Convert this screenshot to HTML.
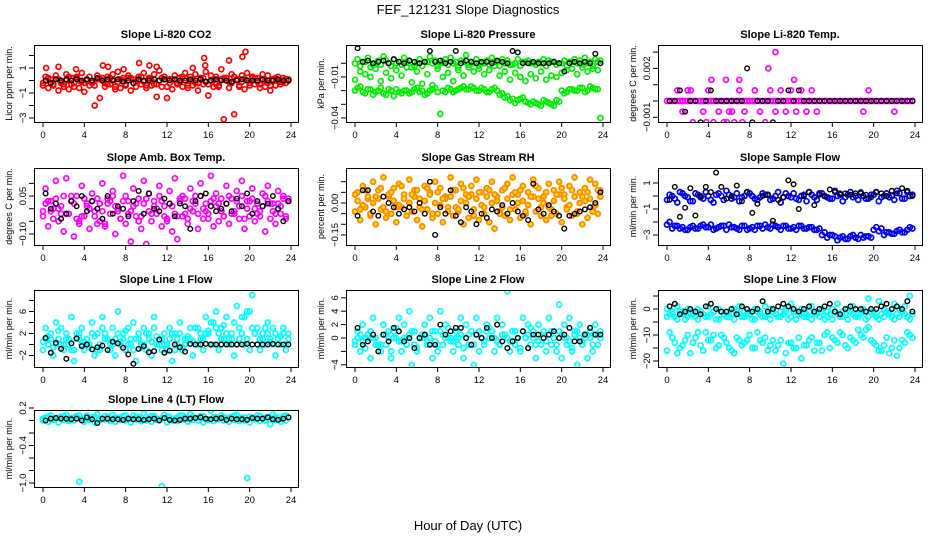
<!DOCTYPE html>
<html><head><meta charset="utf-8">
<style>
html,body{margin:0;padding:0;background:#fff;}
svg{display:block;font-family:"Liberation Sans",sans-serif;}
</style></head>
<body>
<svg id="chart" width="936" height="540" viewBox="0 0 936 540" xmlns="http://www.w3.org/2000/svg">
<rect x="0" y="0" width="936" height="540" fill="#fff"/>
<text x="468" y="14" font-size="13" text-anchor="middle">FEF_121231  Slope Diagnostics</text>
<text x="468" y="530" font-size="13" text-anchor="middle">Hour of Day (UTC)</text>
</svg>
<script>
const hours = [0.25,0.75,1.25,1.75,2.25,2.75,3.25,3.75,4.25,4.75,5.25,5.75,6.25,6.75,7.25,7.75,8.25,8.75,9.25,9.75,10.25,10.75,11.25,11.75,12.25,12.75,13.25,13.75,14.25,14.75,15.25,15.75,16.25,16.75,17.25,17.75,18.25,18.75,19.25,19.75,20.25,20.75,21.25,21.75,22.25,22.75,23.25,23.75];
const hoursB = [0.0,0.5,1.0,1.5,2.0,2.5,3.0,3.5,4.0,4.5,5.0,5.5,6.0,6.5,7.0,7.5,8.0,8.5,9.0,9.5,10.0,10.5,11.0,11.5,12.0,12.5,13.0,13.5,14.0,14.5,15.0,15.5,16.0,16.5,17.0,17.5,18.0,18.5,19.0,19.5,20.0,20.5,21.0,21.5,22.0,22.5,23.0,23.5];
const xTicks = [0,4,8,12,16,20,24];

// Panel 1: CO2
const co2RedA = [0.3,0.1,0.4,-0.2,0.5,0.2,0.3,0.6,0.1,-0.1,0.4,0.2,0.3,0.5,0.7,0.2,0.4,0.1,0.3,0.6,0.2,0.5,0.8,0.3,0.1,0.4,0.2,0.6,0.3,0.5,0.2,0.7,0.4,0.3,0.9,0.2,0.5,0.1,0.4,0.6,0.3,0.2,0.5,0.4,0.1,0.3,0.2,0.1];
const co2RedB = [-0.4,-0.6,-0.3,-0.8,-0.5,-0.7,-0.2,-0.6,-0.9,-0.4,-2.0,-1.4,-0.5,-0.3,-0.7,-0.6,-0.4,-0.8,-0.5,-0.3,-0.6,-0.4,-1.3,-0.5,-1.4,-0.7,-0.3,-0.5,-0.6,-0.4,-0.8,-0.3,-1.2,-0.5,-0.4,-3.1,-0.6,-2.7,-0.5,-0.7,-0.4,-0.3,-0.6,-0.5,-0.8,-0.4,-0.3,-0.2];
const co2RedC = [0.0,-0.2,0.1,-0.1,0.0,-0.3,0.2,-0.1,0.0,-0.2,0.1,0.0,-0.3,0.1,-0.1,0.0,0.2,-0.2,0.0,-0.1,0.1,-0.3,0.0,0.1,-0.2,0.0,-0.1,0.2,0.0,-0.2,0.1,-0.1,0.0,-0.3,0.1,0.0,-0.2,0.1,-0.1,0.0,0.2,-0.1,0.0,-0.2,0.1,0.0,-0.1,0.0];
const co2RedD = [-0.2,0.2,-0.4,0.1,-0.3,0.3,-0.5,0.0,-0.2,0.3,-0.4,0.1,-0.2,0.2,-0.5,0.1,-0.3,0.2,-0.1,0.3,-0.4,0.0,-0.3,0.2,-0.5,0.1,-0.2,0.3,-0.4,0.0,-0.2,0.2,-0.3,0.1,-0.5,0.2,-0.1,0.3,-0.4,0.1,-0.2,0.2,-0.3,0.0,-0.4,0.2,-0.1,0.1];
const co2OutHours = [0.3,1.5,3.2,5.8,7.8,9.3,11.0,15.6,15.7,17.5,18.0,19.3,19.6,14.5,10.3,6.3];
const co2OutValues = [1.0,1.1,0.9,1.2,0.9,1.4,1.1,1.8,1.2,3.0,1.6,1.9,2.3,1.0,1.2,1.1];
const co2Black = [0.0,-0.2,0.1,0.0,0.1,0.0,0.1,0.0,0.1,0.0,0.2,0.0,0.1,0.0,0.1,-0.1,0.0,-0.2,0.1,0.0,0.0,0.1,0.0,0.1,0.0,0.1,0.0,0.0,0.1,0.0,0.1,-0.1,0.0,0.1,0.0,0.0,-0.1,0.0,0.1,0.0,0.0,0.0,0.1,0.0,0.0,0.1,0.0,0.0];

// Panel 2: Pressure
const presGreenA = [0.003,0.001,0.004,-0.001,0.002,0.005,0.000,0.003,0.001,0.004,0.002,-0.002,0.003,0.001,0.005,0.002,0.000,0.003,0.004,0.001,0.002,0.006,0.001,0.003,0.000,0.002,0.004,0.001,0.003,0.002,-0.001,0.003,0.001,0.002,0.000,0.001,0.003,0.002,0.001,0.000,0.002,0.001,0.003,0.002,0.004,0.001,0.003,0.002];
const presGreenB = [-0.018,-0.021,-0.019,-0.023,-0.020,-0.022,-0.019,-0.024,-0.021,-0.020,-0.022,-0.019,-0.021,-0.023,-0.020,-0.018,-0.037,-0.021,-0.019,-0.020,-0.018,-0.019,-0.017,-0.020,-0.018,-0.021,-0.019,-0.020,-0.022,-0.024,-0.026,-0.027,-0.025,-0.029,-0.028,-0.030,-0.027,-0.029,-0.031,-0.028,-0.022,-0.019,-0.020,-0.018,-0.021,-0.017,-0.019,-0.040];
const presGreenE = [-0.020,-0.017,-0.022,-0.019,-0.021,-0.018,-0.023,-0.020,-0.019,-0.022,-0.020,-0.021,-0.018,-0.020,-0.022,-0.019,-0.021,-0.020,-0.018,-0.021,-0.019,-0.017,-0.019,-0.018,-0.020,-0.019,-0.021,-0.018,-0.023,-0.025,-0.027,-0.029,-0.026,-0.028,-0.030,-0.029,-0.031,-0.028,-0.030,-0.027,-0.020,-0.021,-0.019,-0.020,-0.018,-0.020,-0.018,-0.019];
const presGreenC = [-0.012,-0.006,-0.008,-0.010,-0.004,-0.013,-0.007,-0.011,-0.005,-0.009,-0.003,-0.014,-0.006,-0.015,-0.008,-0.016,-0.004,-0.010,-0.007,-0.013,-0.005,-0.009,-0.003,-0.006,-0.004,-0.008,-0.005,-0.002,-0.009,-0.006,-0.012,-0.007,-0.010,-0.013,-0.008,-0.011,-0.006,-0.012,-0.009,-0.010,-0.007,-0.005,-0.004,-0.008,-0.003,-0.006,-0.004,-0.005];
const presGreenD = [0.000,-0.002,0.001,-0.003,0.000,-0.001,0.002,-0.002,0.000,-0.001,0.001,-0.003,0.000,-0.002,0.001,0.000,-0.002,0.001,-0.001,0.000,-0.003,0.001,-0.001,0.000,-0.002,0.000,-0.001,0.001,-0.002,0.000,-0.001,0.000,-0.002,0.001,0.000,-0.001,0.000,-0.002,0.001,-0.001,0.000,-0.002,0.001,0.000,-0.001,0.000,-0.002,0.001];
const presBlack = [0.011,0.001,0.002,0.000,0.001,0.002,0.000,0.003,0.001,0.000,0.002,0.001,0.000,0.001,0.009,0.001,0.002,0.000,0.001,0.009,0.000,0.002,0.001,0.000,0.001,0.001,0.000,0.002,0.001,0.000,0.009,0.008,0.000,0.000,0.001,0.000,0.000,0.000,0.001,0.000,-0.006,0.000,0.001,0.000,0.001,0.000,0.007,0.000];

// Panel 3: Li-820 Temp
const tempPinkA = [0,0,0,0,0,0,0,0,0,0,0,0,0,0,0,0,0,0,0,0,0,0,0,0,0,0,0,0,0,0,0,0,0,0,0,0,0,0,0,0,0,0,0,0,0,0,0,0];
const tempPinkHours = [1,1.5,2,2.5,3.5,4,4.5,5,5.5,6,6.5,7,7.5,8.5,9,9.5,10,10.5,11,11.5,12,12.5,13,13.5,14,14.5,19,19.5,22,2.3,4.3,5.7,6.3,7.0,9.8,10.5,3.8,5.8,7.3,12.3];
const tempPinkValues = [0.00065,-0.00065,0.00065,-0.0013,-0.00065,0.00065,-0.0013,-0.00065,-0.0013,-0.00065,-0.0013,0.00065,-0.00065,0.00065,-0.00065,-0.0013,0.00065,-0.00065,0.00065,-0.00065,0.00065,-0.00065,0.00065,-0.00065,0.00065,-0.00065,-0.00065,0.00065,-0.00065,0.00065,0.0013,0.0013,-0.00065,0.0013,0.002,0.003,-0.0013,-0.0013,-0.0013,0.0013];
const tempBlack = [0,0,0.00065,-0.00065,0,0,-0.0013,0,0.00065,0,0,0,0,0,0,0.002,-0.0013,0,0,0,-0.0013,0,0,0.00065,0,0.00065,0,0,0,0,0,0,0,0,0,0,0,0,0,0,0,0,0,0,0,0,0,0];

// Panel 4: Amb box temp
const ambA = [0.08,0.03,0.11,-0.02,0.12,0.05,-0.04,0.09,0.02,0.06,-0.06,0.10,0.04,0.07,-0.01,0.13,0.03,0.08,-0.05,0.11,0.06,0.01,0.09,-0.03,0.07,0.12,0.04,-0.02,0.08,0.05,0.10,0.02,0.13,0.06,-0.01,0.09,0.04,0.07,0.11,0.03,0.08,-0.02,0.06,0.09,0.02,0.07,0.05,0.04];
const ambB = [-0.03,-0.07,0.00,-0.05,-0.09,-0.02,-0.11,-0.06,-0.03,-0.08,-0.01,-0.05,-0.07,-0.02,-0.10,-0.04,-0.06,-0.13,-0.03,-0.08,-0.14,-0.05,-0.02,-0.07,-0.04,-0.09,-0.12,-0.03,-0.06,-0.01,-0.08,-0.04,-0.02,-0.07,-0.05,-0.03,-0.06,-0.02,-0.04,-0.08,-0.03,-0.05,-0.01,-0.09,-0.04,-0.06,-0.02,-0.03];
const ambC = [0.02,-0.01,0.04,0.01,-0.02,0.03,0.05,-0.03,0.01,0.03,0.04,-0.01,0.02,0.05,0.00,0.03,-0.02,0.01,0.04,0.02,-0.01,0.03,0.05,0.01,0.02,-0.02,0.03,0.04,0.00,0.02,0.05,-0.01,0.03,0.01,0.04,0.02,-0.02,0.03,0.05,0.00,0.04,0.02,0.01,0.03,-0.01,0.02,0.04,0.03];
const ambD = [-0.01,0.03,-0.04,0.00,0.05,-0.02,0.02,-0.05,0.04,0.00,-0.03,0.02,-0.06,0.03,0.01,-0.04,0.05,-0.01,0.02,-0.03,0.04,-0.02,0.00,0.03,-0.05,0.01,-0.03,0.05,-0.04,0.03,-0.02,0.00,-0.04,0.04,0.02,-0.03,0.05,-0.01,0.01,-0.04,0.03,0.00,-0.03,0.05,0.02,-0.02,0.01,-0.04];
const ambBlack = [0.06,0.00,0.02,-0.04,-0.02,0.03,0.01,0.05,-0.01,0.03,0.00,-0.04,0.05,-0.02,0.01,0.00,-0.03,0.03,0.07,-0.02,0.06,0.00,-0.01,0.04,0.02,-0.03,0.02,0.01,-0.08,0.03,0.05,0.06,0.01,-0.01,0.00,0.02,-0.01,0.04,0.01,0.06,-0.02,0.03,0.01,0.02,0.05,0.00,-0.05,0.03];

// Panel 5: Gas stream RH
const rhA = [0.05,0.08,0.02,0.10,0.06,0.12,0.03,0.07,0.09,0.04,0.11,0.06,0.02,0.08,0.05,0.10,0.07,0.03,0.12,0.06,0.09,0.04,0.08,0.11,0.05,0.07,0.10,0.03,0.06,0.09,0.12,0.04,0.08,0.05,0.11,0.07,0.03,0.09,0.06,0.10,0.04,0.08,0.12,0.05,0.07,0.11,0.09,0.06];
const rhB = [-0.04,-0.08,-0.02,-0.06,-0.10,-0.03,-0.07,-0.05,-0.09,-0.02,-0.06,-0.04,-0.08,-0.11,-0.03,-0.07,-0.05,-0.09,-0.02,-0.06,-0.04,-0.10,-0.07,-0.03,-0.08,-0.05,-0.09,-0.12,-0.04,-0.06,-0.08,-0.03,-0.07,-0.05,-0.10,-0.04,-0.06,-0.08,-0.03,-0.05,-0.09,-0.02,-0.06,-0.04,-0.10,-0.07,-0.03,-0.05];
const rhC = [0.01,-0.01,0.03,0.00,0.02,-0.02,0.04,0.01,-0.01,0.02,0.00,0.03,-0.02,0.01,0.04,0.00,-0.01,0.02,0.03,-0.02,0.01,0.00,0.04,0.02,-0.01,0.03,0.00,0.01,-0.02,0.02,0.04,0.00,0.01,-0.01,0.03,0.02,0.00,-0.02,0.01,0.04,0.02,-0.01,0.03,0.00,0.01,0.02,-0.01,0.03];
const rhD = [0.04,-0.03,0.06,-0.05,0.03,0.07,-0.04,0.05,-0.02,0.08,-0.06,0.04,0.06,-0.03,0.07,-0.05,0.05,0.02,-0.04,0.06,-0.03,0.07,0.03,-0.06,0.05,-0.02,0.06,0.04,-0.05,0.07,-0.03,0.05,0.06,-0.04,0.03,0.08,-0.02,0.05,-0.06,0.04,0.07,-0.03,0.06,-0.05,0.03,0.05,-0.04,0.06];
const rhBlack = [-0.06,0.06,0.06,-0.04,-0.06,0.03,0.00,-0.02,-0.05,-0.03,-0.02,-0.04,0.00,-0.05,0.10,-0.15,-0.02,-0.05,0.06,-0.06,-0.09,-0.02,-0.04,-0.10,-0.05,-0.07,-0.03,-0.04,-0.01,-0.05,0.00,-0.04,-0.06,-0.08,0.09,-0.03,-0.05,-0.01,-0.04,-0.06,-0.12,-0.06,-0.05,-0.04,-0.03,-0.02,0.00,0.05];

// Panel 6: Sample flow
const sfA = [0.1,-0.2,0.3,0.0,-0.4,0.2,-0.1,0.3,-0.3,0.1,0.0,0.4,-0.2,0.2,-0.1,0.3,0.0,-0.3,0.2,0.1,-0.2,0.3,-0.1,0.0,0.2,-0.3,0.1,0.3,-0.1,0.2,0.0,-0.2,0.4,0.1,-0.1,0.3,0.0,0.2,-0.2,0.1,0.3,-0.1,0.2,0.0,0.4,-0.2,0.3,0.1];
const sfB = [-0.3,0.0,-0.5,0.2,-0.1,-0.4,0.1,-0.2,0.0,-0.5,0.2,-0.3,0.1,-0.1,-0.4,0.0,0.2,-0.2,-0.1,0.1,-0.3,0.0,-0.5,0.2,-0.1,-0.2,0.0,-0.4,0.1,-0.3,0.2,-0.1,-0.2,0.0,-0.4,0.1,-0.1,-0.3,0.0,-0.2,0.1,-0.4,0.0,-0.1,-0.3,0.2,-0.2,0.0];
const sfC = [-2.0,-2.3,-2.5,-2.6,-2.4,-2.5,-2.3,-2.4,-2.2,-2.5,-2.3,-2.6,-2.4,-2.5,-2.3,-2.6,-2.4,-2.3,-2.5,-2.4,-2.2,-2.4,-2.3,-2.5,-2.4,-2.3,-2.5,-2.4,-2.6,-2.5,-2.8,-3.0,-3.1,-3.2,-3.3,-3.1,-3.2,-3.0,-3.1,-3.2,-2.4,-2.5,-2.8,-2.9,-2.7,-2.8,-2.6,-2.5];
const sfD = [-2.2,-2.5,-2.3,-2.4,-2.6,-2.3,-2.5,-2.2,-2.4,-2.6,-2.4,-2.3,-2.2,-2.4,-2.6,-2.3,-2.5,-2.6,-2.3,-2.2,-2.5,-2.3,-2.6,-2.3,-2.5,-2.6,-2.3,-2.5,-2.4,-2.6,-3.0,-3.2,-3.0,-3.4,-3.1,-3.3,-3.0,-3.3,-3.2,-3.1,-2.6,-2.7,-3.0,-2.8,-2.9,-2.6,-2.8,-2.4];
const sfBlack = [-0.3,0.7,-1.6,-0.9,0.6,-1.5,0.0,0.7,0.3,1.8,0.7,-0.2,0.0,0.8,-0.4,0.3,-1.3,-0.6,0.0,0.1,-1.9,-0.3,-0.1,1.2,0.9,-1.0,0.0,0.3,-0.7,0.1,0.0,0.5,0.3,0.2,0.2,0.1,0.2,0.3,0.1,-0.1,0.3,0.2,0.0,0.4,0.2,0.6,0.4,0.0];

// Panel 7: Line 1 flow
const l1A = [3,1,4,0,2,5,1,3,0,4,2,5,1,3,6,2,0,4,1,3,2,5,1,0,3,2,4,1,3,0,2,5,4,6,3,5,2,7,5,6,9,3,2,4,3,1,3,2];
const l1B = [-1,0,-2,1,-1,0,-3,1,-1,0,-2,-1,1,0,-2,0,-1,1,-3,0,-1,-2,0,1,-1,-3,0,-1,1,-2,0,-1,2,0,-1,1,0,-2,1,0,-1,2,-1,0,1,-2,0,-1];
const l1C = [1,2,0,3,1,-1,2,0,1,2,-1,3,1,0,2,1,3,-1,2,0,1,3,0,2,1,-1,2,0,1,3,1,2,0,3,1,2,1,0,2,1,3,0,1,2,0,1,2,1];
const l1D = [0.5,1.5,-0.5,2.5,0,1,-1,2,0.5,-0.5,1.5,0,2,-1,1,0.5,2.5,0,1,-0.5,2,0.5,1.5,-1,0,2,1,-0.5,1.5,0.5,3,1,2.5,4,2,3.5,1,4,3,5,6,2,1,3,0.5,2,1.5,0];
const l1Black = [1.2,-1.5,0.3,-0.8,-2.6,0.2,1.1,-0.3,0.0,-0.9,-0.5,-0.2,-1.0,0.5,0.2,-0.6,-1.8,-3.5,-0.8,-0.3,-1.4,-1.2,0.9,-1.5,-1.1,0.0,-0.5,-1.3,0.1,0.0,0.0,0.1,0.0,0.0,0.0,0.0,0.0,0.0,0.0,0.1,0.0,0.0,0.0,0.0,0.1,0.0,0.0,0.0];

// Panel 8: Line 2 flow
const l2A = [1,2,0,3,-1,2,1,0,3,2,4,1,0,2,3,1,4,2,0,1,3,2,1,3,0,2,1,3,2,7,1,0,3,2,1,2,1,3,0,5,2,3,1,2,0,1,2,1];
const l2B = [-1,-2,0,-3,-1,-2,-1,-3,0,-2,-1,-4,-2,0,-1,-3,-2,-1,0,-2,-1,-3,-1,-4,-2,-1,0,-2,-1,-5,-2,-1,-2,0,-1,-3,-1,-2,-1,-2,-3,-1,-2,-4,-1,-3,-2,-1];
const l2C = [0,-0.5,0.5,0,-1,0.5,0,1,-0.5,0,0.5,-1,0,0.5,0,-0.5,1,0,-0.5,0,0.5,0,-1,0.5,0,1,0,-0.5,0.5,0,-0.5,0,1,0.5,0,-0.5,0,0.5,0,1,0,-0.5,0.5,0,0.5,0,0.5,0];
const l2D = [-0.5,0.5,-1.5,1,0,-1,0.5,-2,1.5,-0.5,0,1,-1.5,0.5,-0.5,1,-1,0.5,1.5,-0.5,0,-1.5,0.5,-1,1,-0.5,1.5,0,-1,0.5,-0.5,1,-1.5,0,1.5,-1,0.5,-0.5,1,-1,0.5,0,-1.5,1,-0.5,0.5,-1,0.5];
const l2Black = [1.5,-1,-0.5,0.5,-2,0.5,-0.5,1.5,1,-0.5,0,-1.5,0,0.5,-1,-1,2,0.5,1,1.5,1.5,0,-1,0.5,0,1.5,0,2,-0.5,-1.5,-0.5,0,1,-1.5,0.5,0.5,0,0.5,1,0,0.5,1.5,-0.5,-0.5,0.5,1.5,0.5,0.5];

// Panel 9: Line 3 flow
const l3A = [-2,-3,-1,-4,-2,-3,-1,-3,-2,-4,-1,-3,-2,-1,-3,-2,-4,-1,-3,-2,-1,-3,-2,-4,-1,-2,-3,-1,-2,-3,-4,-2,-1,-3,-2,-1,-3,-2,-4,-1,-3,-2,-1,-3,-2,-1,-3,-2];
const l3B = [0,-1,1,-2,0,-1,0,-2,1,-1,0,-2,-1,0,1,-1,-2,0,-1,1,0,-2,-1,0,2,-1,0,-2,1,-1,0,-1,0,2,-1,0,1,-2,0,4,-1,3,0,-1,2,0,1,5];
const l3E = [-3,-2,-4,-1,-3,-2,-4,-2,-3,-1,-4,-2,-3,-4,-2,-3,-1,-4,-2,-3,-4,-2,-3,-1,-3,-4,-2,-3,-4,-2,-1,-3,-4,-2,-3,-4,-2,-3,-1,-3,-2,-4,-3,-2,-4,-3,-2,-4];
const l3C = [-9,-13,-15,-12,-17,-11,-14,-9,-12,-15,-10,-13,-16,-11,-14,-12,-15,-9,-13,-16,-12,-14,-21,-13,-15,-11,-14,-12,-16,-13,-10,-15,-12,-9,-14,-11,-13,-10,-8,-12,-14,-16,-11,-15,-18,-12,-9,-11];
const l3D = [-16,-11,-17,-14,-10,-13,-9,-16,-12,-10,-14,-11,-15,-17,-12,-13,-10,-15,-12,-11,-14,-16,-12,-17,-13,-15,-19,-14,-11,-13,-16,-9,-11,-13,-10,-15,-12,-8,-11,-7,-13,-16,-14,-17,-12,-15,-13,-10];
const l3Black = [1,2,-2,-1,0,-1,-2,1,2,0,-1,-1,0,-2,1,0,-1,0,3,-1,0,1,2,1,0,-1,0,1,-1,0,1,2,-1,-2,0,1,0,0,-1,0,0,1,2,0,1,0,3,-1];

// Panel 10: Line 4 (LT) flow
const l4A = [0.05,0.08,0.02,0.06,0.09,0.04,0.07,0.03,0.08,0.05,0.10,0.02,0.06,0.09,0.04,0.07,0.03,0.08,0.05,0.11,0.04,0.07,0.02,0.09,0.06,0.03,0.08,0.05,0.10,0.04,0.07,0.02,0.16,0.05,0.08,0.03,0.06,0.09,0.04,-0.92,0.05,0.08,0.03,0.06,0.10,0.04,0.07,0.05];
const l4B = [0.00,-0.02,0.02,-0.03,0.01,-0.01,0.00,-0.98,-0.02,0.01,-0.03,0.00,0.02,-0.01,-0.02,0.01,0.00,-0.03,0.02,-0.01,0.00,-0.02,0.01,-1.05,-0.03,0.00,-0.01,0.02,-0.02,0.01,0.00,-0.03,0.01,-0.01,0.02,0.00,-0.02,0.01,-0.01,0.00,-0.03,0.02,-0.01,0.00,-0.06,0.01,-0.02,0.00];
const l4C = [0.03,0.06,0.01,0.04,0.07,0.02,0.05,0.08,0.01,0.04,0.06,0.03,0.07,0.02,0.05,0.04,0.08,0.03,0.06,0.02,0.05,0.07,0.03,0.04,0.06,0.02,0.05,0.08,0.03,0.06,0.04,0.07,0.02,0.05,0.03,0.06,0.04,0.08,0.02,0.05,0.06,0.03,0.07,0.04,0.02,0.06,0.03,0.08];
const l4Black = [0.00,0.03,0.04,0.03,0.03,0.02,0.03,0.00,0.05,0.02,-0.04,0.03,0.03,0.02,0.02,0.01,0.03,0.02,0.02,0.01,0.02,0.03,0.00,0.04,0.01,0.00,0.01,0.03,0.03,0.04,0.05,0.03,0.02,0.03,0.04,0.01,0.03,0.02,0.02,0.01,0.04,0.03,0.03,0.05,0.02,0.01,0.03,0.05];

const NS = "http://www.w3.org/2000/svg";
const svg = document.getElementById('chart');

const panels = [
 {name:'co2',title:'Slope Li-820 CO2',ylab:'Licor ppm per min.',L:34,T:45,zero:80.5,k:12.5,
  ticks:[-3,-2,-1,0,1,2],labels:{'-3':'-3','-1':'-1','1':'1'},
  series:[[hours,co2RedA,'#ff0000'],[hoursB,co2RedD,'#ff0000'],[hoursB,co2RedB,'#ff0000'],[hours,co2RedC,'#ff0000'],[co2OutHours,co2OutValues,'#ff0000'],[hours,co2Black,'#000']]},
 {name:'pressure',title:'Slope Li-820 Pressure',ylab:'kPa per min.',L:346,T:45,zero:63.3,k:1367,
  ticks:[-0.04,-0.03,-0.02,-0.01,0],labels:{'-0.04':'-0.04','-0.01':'-0.01'},
  series:[[hours,presGreenA,'#00ee00'],[hoursB,presGreenD,'#00ee00'],[hours,presGreenB,'#00ee00'],[hoursB,presGreenE,'#00ee00'],[hoursB,presGreenC,'#00ee00'],[hours,presBlack,'#000']]},
 {name:'li820-temp',title:'Slope Li-820 Temp.',ylab:'degrees C per min.',L:658,T:45,zero:101,k:16300,
  ticks:[-0.001,0,0.001,0.002,0.003],labels:{'-0.001':'-0.001','0.002':'0.002'},
  series:[[hours,tempPinkA,'#ff00ff'],[hoursB,tempPinkA,'#ff00ff'],[tempPinkHours,tempPinkValues,'#ff00ff'],[hours,tempBlack,'#000']]},
 {name:'amb-box-temp',title:'Slope Amb. Box Temp.',ylab:'degrees C per min.',L:34,T:168,zero:208.7,k:253,
  ticks:[-0.1,-0.05,0,0.05,0.1],labels:{'-0.1':'-0.10','0.05':'0.05'},
  series:[[hours,ambA,'#ff00ff'],[hoursB,ambB,'#ff00ff'],[hours,ambC,'#ff00ff'],[hoursB,ambD,'#ff00ff'],[hours,ambBlack,'#000']]},
 {name:'gas-stream-rh',title:'Slope Gas Stream RH',ylab:'percent per min.',L:346,T:168,zero:203,k:213,
  ticks:[-0.15,-0.1,-0.05,0,0.05,0.1],labels:{'-0.15':'-0.15','0':'0.00'},
  series:[[hours,rhA,'#ff8800'],[hoursB,rhB,'#ff8800'],[hours,rhC,'#ff8800'],[hoursB,rhD,'#ff8800'],[hours,rhBlack,'#000']]},
 {name:'sample-flow',title:'Slope Sample Flow',ylab:'ml/min per min.',L:658,T:168,zero:196,k:13,
  ticks:[-3,-2,-1,0,1],labels:{'-3':'-3','-1':'-1','1':'1'},
  series:[[hours,sfA,'#0000ee'],[hoursB,sfB,'#0000ee'],[hours,sfC,'#0000ee'],[hoursB,sfD,'#0000ee'],[hours,sfBlack,'#000']]},
 {name:'line1-flow',title:'Slope Line 1 Flow',ylab:'ml/min per min.',L:34,T:290,zero:344.5,k:5.5,
  ticks:[-2,0,2,4,6,8],labels:{'-2':'-2','2':'2','6':'6'},
  series:[[hours,l1A,'#00ffff'],[hoursB,l1B,'#00ffff'],[hours,l1C,'#00ffff'],[hoursB,l1D,'#00ffff'],[hours,l1Black,'#000']]},
 {name:'line2-flow',title:'Slope Line 2 Flow',ylab:'ml/min per min.',L:346,T:290,zero:338,k:6.7,
  ticks:[-4,-2,0,2,4,6],labels:{'-4':'-4','0':'0','2':'2','4':'4','6':'6'},
  series:[[hours,l2A,'#00ffff'],[hoursB,l2B,'#00ffff'],[hours,l2C,'#00ffff'],[hoursB,l2D,'#00ffff'],[hours,l2Black,'#000']]},
 {name:'line3-flow',title:'Slope Line 3 Flow',ylab:'ml/min per min.',L:658,T:290,zero:309,k:2.6,
  ticks:[-20,-15,-10,-5,0,5],labels:{'-20':'-20','-10':'-10','0':'0'},
  series:[[hours,l3A,'#00ffff'],[hoursB,l3B,'#00ffff'],[hoursB,l3E,'#00ffff'],[hours,l3C,'#00ffff'],[hoursB,l3D,'#00ffff'],[hours,l3Black,'#000']]},
 {name:'line4-flow',title:'Slope Line 4 (LT) Flow',ylab:'ml/min per min.',L:34,T:410,zero:420.5,k:62.5,
  ticks:[-1,-0.8,-0.6,-0.4,-0.2,0,0.2],labels:{'-1':'-1.0','-0.4':'-0.4','0.2':'0.2'},
  series:[[hours,l4A,'#00ffff'],[hoursB,l4B,'#00ffff'],[hoursB,l4C,'#00ffff'],[hours,l4Black,'#000']]}
];
const W = 264, H = 77;

function mk(tag, attrs, parent){
  const e = document.createElementNS(NS, tag);
  for (const a in attrs) e.setAttribute(a, attrs[a]);
  parent.appendChild(e);
  return e;
}

panels.forEach(p => {
  const g = mk('g', {}, svg);
  
  
  const xs = h => p.L + 9 + h * (248 / 24);
  const ys = v => p.zero - v * p.k;
  const cid = 'clip-' + p.name;
  const cp = mk('clipPath', {id: cid}, g);
  mk('rect', {x: p.L, y: p.T, width: W, height: H}, cp);
  const pts = mk('g', {'clip-path': 'url(#' + cid + ')'}, g);
  
  
  p.series.forEach(s => {
    const hx = s[0], vals = s[1], col = s[2];
    const black = col === '#000';
    vals.forEach((v, i) => {
      const c = mk('circle', {cx: xs(hx[i]).toFixed(1), cy: ys(v).toFixed(1), r: black ? 2.3 : 2.5, fill: (col === '#ff8800' ? '#ffdd00' : 'none'), stroke: col, 'stroke-width': black ? 1.4 : 1.7}, pts);
      
      
    });
  });
  const box = mk('rect', {x: p.L + 0.5, y: p.T + 0.5, width: W, height: H, fill: 'none', stroke: '#000', 'stroke-width': 1}, g);
  
  
  const t = mk('text', {x: p.L + W / 2, y: p.T - 7, 'font-size': 11, 'font-weight': 'bold', 'text-anchor': 'middle'}, g);
  t.textContent = p.title;
  
  
  xTicks.forEach(h => {
    const x = xs(h);
    mk('line', {x1: x, x2: x, y1: p.T + H, y2: p.T + H + 5, stroke: '#000'}, g);
    const tl = mk('text', {x: x, y: p.T + H + 16, 'font-size': 9.5, 'text-anchor': 'middle'}, g);
    tl.textContent = String(h);
    
    
  });
  mk('line', {x1: xs(0), x2: xs(24), y1: p.T + H + 0.5, y2: p.T + H + 0.5, stroke: '#000'}, g);
  p.ticks.forEach(v => {
    const y = ys(v);
    mk('line', {x1: p.L - 5, x2: p.L, y1: y, y2: y, stroke: '#000'}, g);
    const key = String(v);
    if (p.labels[key] !== undefined) {
      const tl = mk('text', {x: 0, y: 0, 'font-size': 9.5, 'text-anchor': 'middle', transform: 'translate(' + (p.L - 8) + ',' + y + ') rotate(-90)'}, g);
      tl.textContent = p.labels[key].replace('-', '\u2212');
      
      
    }
  });
  const yl = mk('text', {x: 0, y: 0, 'font-size': 9, 'text-anchor': 'middle', transform: 'translate(' + (p.L - 22) + ',' + (p.T + H / 2) + ') rotate(-90)'}, g);
  yl.textContent = p.ylab;
  
  
});
</script>
</body></html>
